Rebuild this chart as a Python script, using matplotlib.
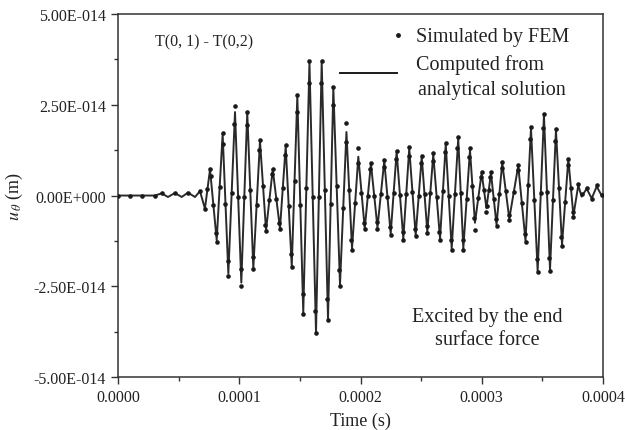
import matplotlib

matplotlib.use("Agg")
import matplotlib.pyplot as plt
from matplotlib.ticker import FixedLocator, FuncFormatter, MultipleLocator

# analytical solution at its turning points (time in us, u in 1e-14 m)
t_line = [0, 30.5, 36.0, 41.2, 47.0, 52.5, 57.7, 63.5, 67.6, 71.7, 75.9, 81.4, 86.3, 91.0,
          96.5, 101.7, 106.6, 111.6, 117.1, 122.1, 127.6, 133.6, 138.3, 143.3, 147.9, 152.8,
          157.9, 163.3, 168.0, 173.2, 177.6, 183.1, 188.4, 193.0, 198.2, 203.5, 208.6, 214.0,
          219.6, 224.9, 229.8, 235.3, 240.2, 245.5, 250.5, 255.1, 260.0, 265.6, 270.3, 275.2,
          280.6, 284.8, 290.3, 294.4, 299.9, 303.9, 307.6, 312.2, 316.9, 322.7, 330.1, 336.1,
          340.6, 346.1, 351.3, 356.3, 361.2, 366.2, 371.4, 375.6, 379.6, 382.4, 386.5, 390.7,
          394.8, 398.9, 400.0]
u_line = [0, 0, 0.06, -0.04, 0.07, -0.04, 0.08, -0.04, 0.12, -0.36, 0.72, -1.23, 1.70, -2.15,
          2.30, -2.40, 2.29, -2.00, 1.50, -0.96, 0.72, -0.91, 1.36, -1.95, 2.74, -3.23,
          3.67, -3.77, 3.68, -3.40, 2.96, -2.45, 1.75, -1.46, 1.07, -0.91, 0.88, -0.88,
          0.96, -1.05, 1.21, -1.19, 1.30, -1.10, 1.07, -1.00, 1.13, -1.19, 1.42, -1.46,
          1.57, -1.46, 1.25, -0.75, 0.62, -0.35, 0.62, -0.80, 0.90, -0.64, 0.82, -1.25,
          1.85, -2.08, 2.22, -2.04, 1.80, -1.35, 1.00, -0.55, 0.28, -0.03, 0.19, -0.08,
          0.25, 0.00, 0.00]

# FEM samples: dots at the turning points
t_fem_peak = [0, 10, 20, 30.5, 36.0, 47.0, 57.7, 67.6, 71.7, 75.9, 81.4, 86.3, 91.0, 96.5,
              101.7, 106.6, 111.6, 117.1, 122.1, 127.6, 133.6, 138.3, 143.3, 147.9, 152.8,
              157.9, 163.3, 168.0, 173.2, 177.6, 183.1, 188.4, 193.0, 198.2, 203.5, 208.6,
              214.0, 219.6, 224.9, 229.8, 235.3, 240.2, 245.5, 250.5, 255.1, 260.0, 265.6,
              270.3, 275.2, 280.6, 284.8, 290.3, 294.4, 299.9, 303.9, 307.6, 312.2, 316.9,
              322.7, 330.1, 336.1, 340.6, 346.1, 351.3, 356.3, 361.2, 366.2, 371.4, 375.6,
              379.6, 382.4, 386.5, 390.7, 394.8, 398.9]
u_fem_peak = [0, 0, 0, 0, 0.06, 0.07, 0.08, 0.12, -0.38, 0.72, -1.28, 1.72, -2.22, 2.46,
              -2.49, 2.29, -2.02, 1.52, -0.98, 0.74, -0.93, 1.38, -1.97, 2.76, -3.26,
              3.70, -3.80, 3.70, -3.42, 2.98, -2.48, 1.99, -1.50, 1.30, -0.93, 0.90,
              -0.92, 0.98, -1.08, 1.24, -1.22, 1.33, -1.12, 1.10, -1.02, 1.16, -1.22,
              1.45, -1.51, 1.60, -1.51, 1.30, -0.95, 0.66, -0.45, 0.64, -0.85, 0.92,
              -0.68, 0.85, -1.28, 1.88, -2.12, 2.25, -2.08, 1.83, -1.40, 1.02, -0.60,
              0.32, 0.05, 0.22, -0.10, 0.28, 0.02]

# FEM samples just beside the turning points (the "shoulder" dots)
t_fem_shoulder = [76.6, 80.8, 86.9, 90.4, 95.9, 101.1, 106.0, 111.0, 116.5, 121.5, 127.0,
                  133.0, 137.7, 142.7, 147.3, 152.2, 157.3, 162.7, 167.4, 172.6, 177.0,
                  182.5, 187.8, 192.4, 197.6, 202.9, 208.0, 213.4, 219.0, 224.3, 229.2,
                  234.7, 239.6, 244.9, 249.9, 254.5, 259.4, 265.0, 269.7, 274.6, 280.0,
                  284.2, 289.7, 293.8, 299.3, 304.5, 307.0, 311.6, 316.3, 322.1, 329.5,
                  335.5, 340.0, 345.5, 350.7, 355.7, 360.6, 365.6, 370.8, 375.0]
u_fem_shoulder = [0.55, -1.02, 1.42, -1.80, 1.98, -2.02, 1.94, -1.68, 1.25, -0.80, 0.58,
                  -0.76, 1.12, -1.62, 2.30, -2.72, 3.10, -3.18, 3.10, -2.86, 2.50,
                  -2.06, 1.48, -1.22, 0.90, -0.76, 0.74, -0.74, 0.80, -0.88, 1.02,
                  -1.00, 1.10, -0.92, 0.90, -0.84, 0.95, -1.00, 1.20, -1.22, 1.32,
                  -1.22, 1.05, -0.62, 0.52, -0.28, 0.52, -0.66, 0.76, -0.53, 0.69,
                  -1.05, 1.55, -1.75, 1.86, -1.71, 1.51, -1.13, 0.84, -0.45]

# FEM samples on the flanks between turning points
t_fem_mid = [73.8, 78.6, 83.8, 88.6, 93.7, 99.1, 104.1, 109.1, 114.3, 119.6, 124.8, 130.6,
             136.0, 140.8, 145.6, 150.3, 155.3, 160.6, 165.6, 170.6, 175.4, 180.3, 185.7,
             190.7, 195.6, 200.8, 206.0, 211.3, 216.8, 222.2, 227.3, 232.5, 237.7, 242.8,
             248.0, 252.8, 257.5, 262.8, 268.0, 272.7, 277.9, 282.7, 287.5, 292.3, 297.1,
             301.9, 305.7, 309.9, 314.5, 319.8, 326.4, 333.1, 338.3, 343.3, 348.7, 353.8,
             358.7, 363.7, 368.8, 373.5]
u_fem_mid = [0.18, -0.25, 0.23, -0.22, 0.08, -0.05, -0.05, 0.15, -0.25, 0.27, -0.12, -0.10,
             0.22, -0.30, 0.40, -0.25, 0.22, -0.05, -0.05, 0.14, -0.22, 0.25, -0.35,
             0.15, -0.20, 0.08, -0.02, 0.00, 0.04, -0.05, 0.08, 0.01, 0.05, 0.10,
             -0.02, 0.04, 0.06, -0.03, 0.12, -0.02, 0.05, 0.06, -0.10, 0.25, -0.06,
             0.14, 0.14, -0.09, 0.05, 0.13, 0.09, -0.21, 0.30, -0.12, 0.07, 0.09,
             -0.12, 0.22, -0.17, 0.22]

x_ticks = [0.0, 0.0001, 0.0002, 0.0003, 0.0004]
y_ticks = [-5e-14, -2.5e-14, 0.0, 2.5e-14, 5e-14]

US = 1e-6
UNIT = 1e-14
INK = "#1a1a1a"

plt.rcParams["font.family"] = ["Liberation Serif", "DejaVu Serif"]
plt.rcParams["mathtext.fontset"] = "stix"

fig = plt.figure(figsize=(6.25, 4.31), dpi=100)
ax = fig.add_axes([0.1888, 0.123, 0.776, 0.842])

ax.plot([t * US for t in t_line], [u * UNIT for u in u_line], color="#2a2a2a", lw=1.4,
        zorder=2)
for ts, us in [(t_fem_peak, u_fem_peak), (t_fem_shoulder, u_fem_shoulder),
               (t_fem_mid, u_fem_mid)]:
    ax.plot([t * US for t in ts], [u * UNIT for u in us], "o", color=INK, ms=3.3, mew=0,
            zorder=3)

ax.set_xlim(0, 0.0004)
ax.set_ylim(-5e-14, 5e-14)
ax.xaxis.set_major_locator(FixedLocator(x_ticks))
ax.yaxis.set_major_locator(FixedLocator(y_ticks))
ax.xaxis.set_minor_locator(MultipleLocator(0.00005))
ax.yaxis.set_minor_locator(MultipleLocator(1.25e-14))
ax.xaxis.set_major_formatter(FuncFormatter(lambda v, p: f"{v:.4f}"))


def sci_label(v, pos):
    if abs(v) < 1e-20:
        return "0.00E+000"
    mant, exp = f"{v:.2E}".split("E")
    return f"{mant}E{int(exp):+04d}"


ax.yaxis.set_major_formatter(FuncFormatter(sci_label))
ax.tick_params(which="both", direction="out", top=False, right=False, labelsize=11.5,
               color="#333333", labelcolor="#222222")
ax.tick_params(which="major", length=5, width=1)
ax.tick_params(which="minor", length=3, width=1)
for s in ax.spines.values():
    s.set_linewidth(1.1)
    s.set_color("#333333")

ax.set_xlabel("Time (s)", fontsize=13, color="#222222", labelpad=5)
ax.set_ylabel(r"$u_{\,\theta}$ (m)", fontsize=13, color="#222222", labelpad=6)

ax.text(0.076, 0.924, "T(0, 1) - T(0,2)", transform=ax.transAxes, fontsize=11.5,
        color="#222222", va="center")

# legend drawn by hand
ax.plot([0.000231], [4.42e-14], "o", color=INK, ms=3.5, mew=0)
ax.plot([0.000183, 0.000230], [3.37e-14, 3.37e-14], color=INK, lw=1.4)
ax.text(0.615, 0.939, "Simulated by FEM", transform=ax.transAxes, fontsize=14.5,
        color="#222222", va="center")
ax.text(0.615, 0.862, "Computed from", transform=ax.transAxes, fontsize=14.5,
        color="#222222", va="center")
ax.text(0.619, 0.793, "analytical solution", transform=ax.transAxes, fontsize=14.5,
        color="#222222", va="center")

ax.text(0.761, 0.136, "Excited by the end\nsurface force", transform=ax.transAxes,
        fontsize=14.5, color="#222222", ha="center", va="center", linespacing=1.28)

fig.savefig("out.png", dpi=100)
